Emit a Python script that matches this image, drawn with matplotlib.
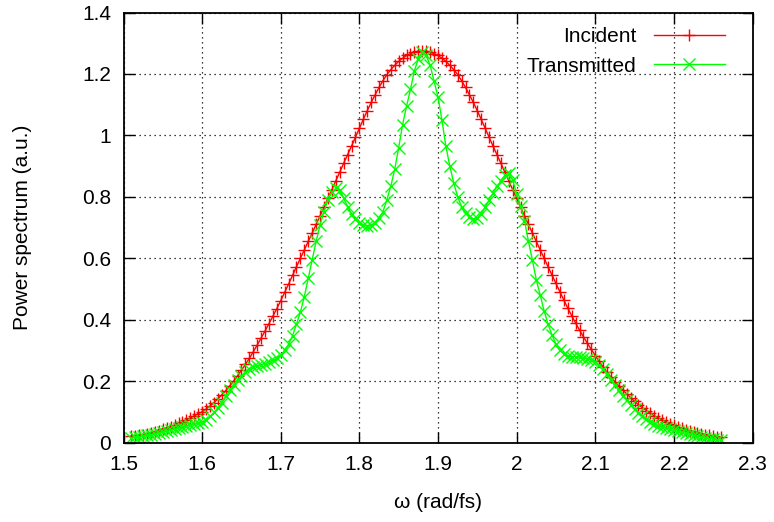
import numpy as np, matplotlib
matplotlib.use("Agg")
import matplotlib.pyplot as plt
from matplotlib.ticker import FuncFormatter

plt.rcParams["font.family"] = ["Liberation Sans", "DejaVu Sans"]

omega = [1.510, 1.515, 1.520, 1.525, 1.530, 1.535, 1.540, 1.545, 1.550, 1.555,
         1.560, 1.565, 1.570, 1.575, 1.580, 1.585, 1.590, 1.595, 1.600, 1.605,
         1.610, 1.615, 1.620, 1.625, 1.630, 1.635, 1.640, 1.645, 1.650, 1.655,
         1.660, 1.665, 1.670, 1.675, 1.680, 1.685, 1.690, 1.695, 1.700, 1.705,
         1.710, 1.715, 1.720, 1.725, 1.730, 1.735, 1.740, 1.745, 1.750, 1.755,
         1.760, 1.765, 1.770, 1.775, 1.780, 1.785, 1.790, 1.795, 1.800, 1.805,
         1.810, 1.815, 1.820, 1.825, 1.830, 1.835, 1.840, 1.845, 1.850, 1.855,
         1.860, 1.865, 1.870, 1.875, 1.880, 1.885, 1.890, 1.895, 1.900, 1.905,
         1.910, 1.915, 1.920, 1.925, 1.930, 1.935, 1.940, 1.945, 1.950, 1.955,
         1.960, 1.965, 1.970, 1.975, 1.980, 1.985, 1.990, 1.995, 2.000, 2.005,
         2.010, 2.015, 2.020, 2.025, 2.030, 2.035, 2.040, 2.045, 2.050, 2.055,
         2.060, 2.065, 2.070, 2.075, 2.080, 2.085, 2.090, 2.095, 2.100, 2.105,
         2.110, 2.115, 2.120, 2.125, 2.130, 2.135, 2.140, 2.145, 2.150, 2.155,
         2.160, 2.165, 2.170, 2.175, 2.180, 2.185, 2.190, 2.195, 2.200, 2.205,
         2.210, 2.215, 2.220, 2.225, 2.230, 2.235, 2.240, 2.245, 2.250, 2.255,
         2.260]

incident = [0.020, 0.022, 0.024, 0.026, 0.029, 0.032, 0.035, 0.039, 0.043, 0.047,
            0.052, 0.057, 0.062, 0.068, 0.074, 0.080, 0.087, 0.094, 0.100, 0.109,
            0.119, 0.130, 0.142, 0.155, 0.169, 0.184, 0.200, 0.217, 0.235, 0.254,
            0.274, 0.295, 0.317, 0.340, 0.363, 0.387, 0.411, 0.436, 0.462, 0.489,
            0.516, 0.544, 0.572, 0.600, 0.627, 0.655, 0.682, 0.710, 0.738, 0.766,
            0.795, 0.823, 0.852, 0.880, 0.909, 0.937, 0.965, 0.994, 1.023, 1.052,
            1.080, 1.107, 1.132, 1.156, 1.178, 1.198, 1.214, 1.228, 1.241, 1.251,
            1.260, 1.266, 1.271, 1.274, 1.275, 1.274, 1.271, 1.266, 1.260, 1.251,
            1.241, 1.228, 1.214, 1.198, 1.178, 1.156, 1.132, 1.107, 1.080, 1.052,
            1.023, 0.994, 0.965, 0.937, 0.909, 0.880, 0.852, 0.823, 0.795, 0.766,
            0.738, 0.710, 0.682, 0.655, 0.627, 0.600, 0.572, 0.545, 0.518, 0.491,
            0.464, 0.438, 0.413, 0.389, 0.366, 0.344, 0.323, 0.303, 0.283, 0.264,
            0.246, 0.229, 0.213, 0.198, 0.184, 0.171, 0.158, 0.146, 0.134, 0.123,
            0.113, 0.104, 0.095, 0.087, 0.080, 0.073, 0.067, 0.061, 0.056, 0.051,
            0.046, 0.042, 0.038, 0.034, 0.031, 0.028, 0.026, 0.023, 0.021, 0.019,
            0.017]

transmitted = [0.015, 0.017, 0.019, 0.021, 0.023, 0.026, 0.029, 0.032, 0.035, 0.038,
               0.041, 0.044, 0.047, 0.050, 0.053, 0.056, 0.059, 0.062, 0.066, 0.074,
               0.085, 0.098, 0.112, 0.130, 0.150, 0.170, 0.188, 0.204, 0.218, 0.230,
               0.240, 0.246, 0.250, 0.253, 0.257, 0.262, 0.267, 0.274, 0.284, 0.300,
               0.320, 0.348, 0.385, 0.425, 0.475, 0.535, 0.595, 0.655, 0.708, 0.752,
               0.790, 0.815, 0.828, 0.822, 0.795, 0.768, 0.745, 0.728, 0.716, 0.708,
               0.705, 0.707, 0.715, 0.730, 0.752, 0.790, 0.835, 0.890, 0.960, 1.035,
               1.095, 1.150, 1.210, 1.250, 1.270, 1.260, 1.228, 1.176, 1.125, 1.050,
               0.965, 0.900, 0.845, 0.800, 0.768, 0.748, 0.735, 0.728, 0.730, 0.745,
               0.766, 0.789, 0.812, 0.834, 0.852, 0.870, 0.878, 0.855, 0.810, 0.770,
               0.722, 0.655, 0.595, 0.530, 0.480, 0.428, 0.385, 0.350, 0.320, 0.300,
               0.288, 0.282, 0.280, 0.279, 0.278, 0.276, 0.273, 0.269, 0.262, 0.252,
               0.240, 0.224, 0.205, 0.187, 0.170, 0.153, 0.138, 0.123, 0.109, 0.096,
               0.085, 0.076, 0.068, 0.061, 0.055, 0.050, 0.046, 0.043, 0.040, 0.036,
               0.033, 0.030, 0.027, 0.024, 0.021, 0.018, 0.015, 0.013, 0.011, 0.009,
               0.007]

xticks = [1.5, 1.6, 1.7, 1.8, 1.9, 2.0, 2.1, 2.2, 2.3]
yticks = [0, 0.2, 0.4, 0.6, 0.8, 1.0, 1.2, 1.4]

fig = plt.figure(figsize=(7.74, 5.22), dpi=100)
ax = fig.add_axes([123.5/774, 1-442.5/522, 629/774, 430/522])

ax.plot(omega, incident, color="#ff0000", lw=1, marker="+", ms=9, mew=1, label="Incident")
ax.plot(omega, transmitted, color="#00ff00", lw=1, marker="x", ms=8, mew=1, label="Transmitted")

ax.set_xlim(1.5, 2.3); ax.set_ylim(0, 1.4)
ax.set_xticks(xticks); ax.set_yticks(yticks)
fmt = FuncFormatter(lambda v, p: f"{v:g}")
ax.xaxis.set_major_formatter(fmt); ax.yaxis.set_major_formatter(fmt)
ax.tick_params(direction="in", length=8, width=1, top=True, right=True, labelsize=15, pad=9)
ax.grid(True, color="black", ls=(0, (1, 3)), lw=0.9)
for s in ax.spines.values(): s.set_linewidth(1.3)
ax.set_xlabel("ω (rad/fs)", fontsize=15, labelpad=14)
ax.set_ylabel("Power spectrum (a.u.)", fontsize=15, labelpad=36)

leg = ax.legend(loc="upper right", bbox_to_anchor=(0.969, 0.985), frameon=False,
                markerfirst=False, fontsize=15, handlelength=3.4, borderaxespad=0,
                labelspacing=0.5, handletextpad=0.85)

fig.savefig("out.png", dpi=100)
